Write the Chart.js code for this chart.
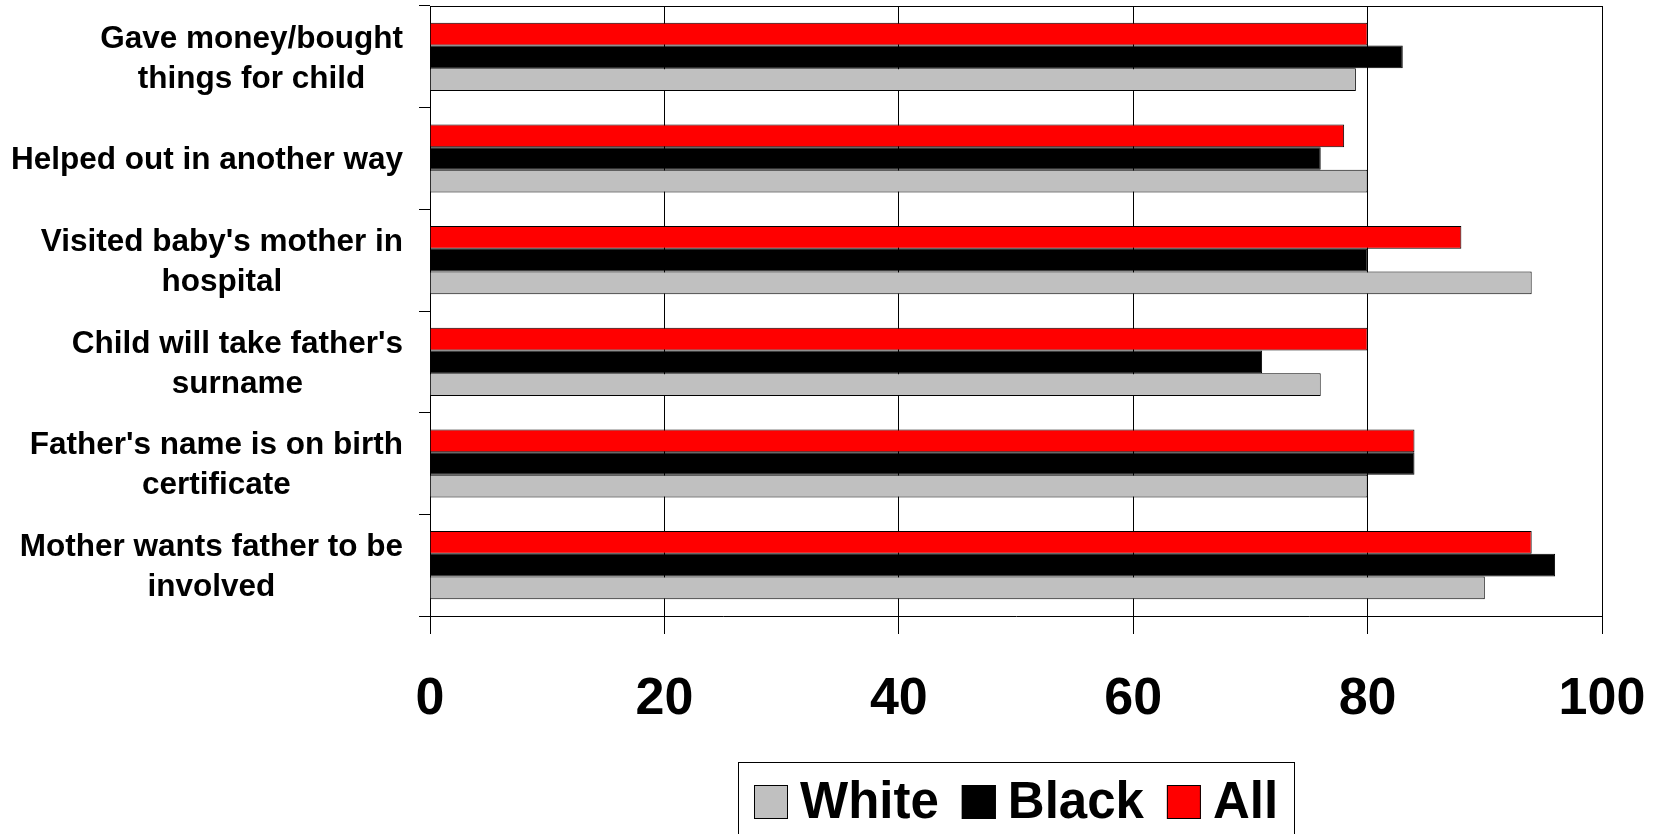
<!DOCTYPE html>
<html>
<head>
<meta charset="utf-8">
<script src="https://cdn.jsdelivr.net/npm/chart.js@4"></script>
<style>
  html, body { margin: 0; padding: 0; background: #ffffff; }
  #wrap { width: 1663px; height: 834px; position: relative; }
</style>
</head>
<body>
<div id="wrap"><canvas id="chart"></canvas></div>
<script>
// Survey items (each entry is one label, split into display lines)
const categories = [
  ["Gave money/bought", "things for child"],
  ["Helped out in another way"],
  ["Visited baby's mother in", "hospital"],
  ["Child will take father's", "surname"],
  ["Father's name is on birth", "certificate"],
  ["Mother wants father to be", "involved"]
];

// Percent of fathers, by group
const whiteValues = [79, 80, 94, 76, 80, 90];
const blackValues = [83, 76, 80, 71, 84, 96];
const allValues   = [80, 78, 88, 80, 84, 94];

// Value axis ticks
const xTicks = [0, 20, 40, 60, 80, 100];

// Legend entries in display order
const legendOrder = ["White", "Black", "All"];

const FONT = "'Liberation Sans', Arial, Helvetica, sans-serif";

// Multi-line category labels: each block right-aligned to the axis, lines centred within the block
const categoryLabels = {
  id: 'categoryLabels',
  afterDraw(chart) {
    const ctx = chart.ctx;
    const yScale = chart.scales.y;
    const area = chart.chartArea;
    const lineHeight = 40;
    ctx.save();
    ctx.font = "bold 31.5px " + FONT;
    ctx.fillStyle = '#000000';
    ctx.textAlign = 'center';
    ctx.textBaseline = 'middle';
    const right = area.left - 27;
    categories.forEach((lines, i) => {
      const y = yScale.getPixelForTick(i) + 2;
      const widest = Math.max(...lines.map(l => ctx.measureText(l).width));
      const cx = right - widest / 2;
      lines.forEach((line, j) => {
        ctx.fillText(line, cx, y + (j - (lines.length - 1) / 2) * lineHeight);
      });
    });
    ctx.restore();
  }
};

// Top edge of the plot frame
const plotFrame = {
  id: 'plotFrame',
  afterDraw(chart) {
    const ctx = chart.ctx;
    const a = chart.chartArea;
    ctx.save();
    ctx.strokeStyle = '#000000';
    ctx.lineWidth = 1;
    ctx.beginPath();
    ctx.moveTo(a.left, Math.round(a.top) + 0.5);
    ctx.lineTo(a.right, Math.round(a.top) + 0.5);
    ctx.stroke();
    ctx.restore();
  }
};

// Boxed legend below the value axis
const boxedLegend = {
  id: 'boxedLegend',
  afterDraw(chart) {
    const ctx = chart.ctx;
    const a = chart.chartArea;
    const box = 34, gapText = 12, gapItem = 23, pad = 16;
    ctx.save();
    ctx.font = "bold 51px " + FONT;
    const items = legendOrder.map(name => {
      const ds = chart.data.datasets.find(d => d.label === name);
      return { name, color: ds.backgroundColor, w: ctx.measureText(name).width };
    });
    let total = 0;
    items.forEach((it, k) => { total += box + gapText + it.w + (k < items.length - 1 ? gapItem : 0); });
    const boxW = total + pad * 2;
    const cxMid = (a.left + a.right) / 2;
    const left = Math.round(cxMid - boxW / 2);
    const top = 762;
    ctx.strokeStyle = '#000000';
    ctx.lineWidth = 1;
    ctx.strokeRect(left + 0.5, top + 0.5, Math.round(boxW), 120);
    const midY = 802;
    let x = left + pad;
    ctx.textAlign = 'left';
    ctx.textBaseline = 'middle';
    items.forEach(it => {
      ctx.fillStyle = it.color;
      ctx.fillRect(x, midY - box / 2, box, box);
      ctx.strokeStyle = '#000000';
      ctx.strokeRect(x + 0.5, midY - box / 2 + 0.5, box - 1, box - 1);
      ctx.fillStyle = '#000000';
      ctx.fillText(it.name, x + box + gapText, midY + 2);
      x += box + gapText + it.w + gapItem;
    });
    ctx.restore();
  }
};

new Chart(document.getElementById('chart'), {
  type: 'bar',
  data: {
    labels: categories,
    datasets: [
      { label: 'All',   data: allValues,   backgroundColor: '#FF0000' },
      { label: 'Black', data: blackValues, backgroundColor: '#000000' },
      { label: 'White', data: whiteValues, backgroundColor: '#C0C0C0' }
    ]
  },
  options: {
    indexAxis: 'y',
    responsive: true,
    maintainAspectRatio: false,
    animation: false,
    layout: { padding: { top: 6, right: 61, bottom: 0, left: 0 } },
    datasets: {
      bar: {
        categoryPercentage: 0.67,
        barPercentage: 1.0,
        borderColor: '#000000',
        borderWidth: 1,
        borderSkipped: 'start'
      }
    },
    plugins: {
      legend: { display: false },
      tooltip: { enabled: false }
    },
    scales: {
      x: {
        type: 'linear',
        position: 'bottom',
        min: 0,
        max: 100,
        afterBuildTicks(scale) { scale.ticks = xTicks.map(v => ({ value: v })); },
        afterFit(scale) {
          scale.height = 218;
          scale.paddingLeft = 0;
          scale.paddingRight = 0;
        },
        grid: { color: '#000000', lineWidth: 1, drawTicks: true, tickLength: 18 },
        border: { color: '#000000', width: 1 },
        ticks: {
          color: '#000000',
          padding: 34,
          maxRotation: 0,
          font: { family: FONT, size: 52, weight: 'bold' }
        }
      },
      y: {
        type: 'category',
        position: 'left',
        offset: true,
        afterFit(scale) {
          scale.width = 430;
          scale.paddingTop = 0;
          scale.paddingBottom = 0;
        },
        grid: { color: '#000000', lineWidth: 1, drawOnChartArea: false, drawTicks: true, tickLength: 11, offset: true },
        border: { color: '#000000', width: 1 },
        ticks: { display: false }
      }
    }
  },
  plugins: [categoryLabels, plotFrame, boxedLegend]
});
</script>
</body>
</html>
